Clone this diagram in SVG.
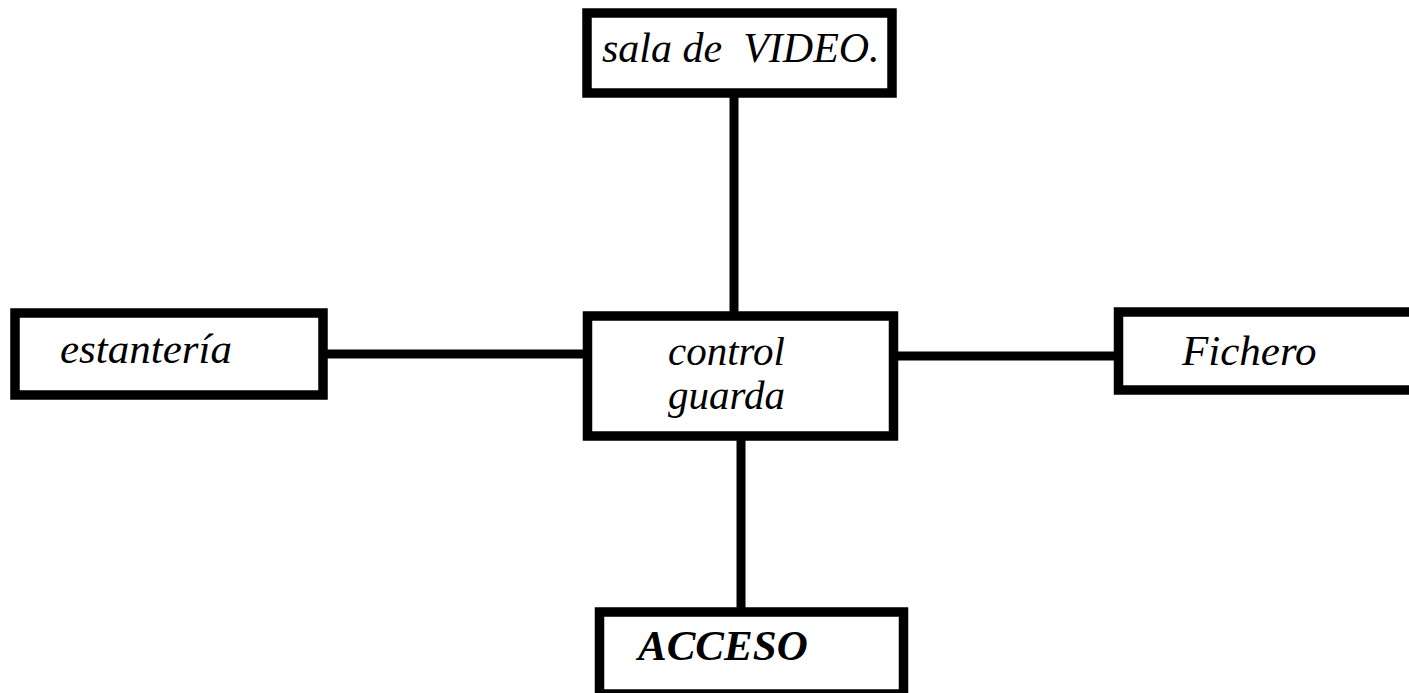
<svg xmlns="http://www.w3.org/2000/svg" width="1409" height="693" viewBox="0 0 1409 693">
<style>
.box{fill:#ffffff;stroke:#000000;stroke-width:9.5}
.ln{stroke:#000000;stroke-width:9;fill:none}
.t{font-family:"Liberation Serif","Times New Roman",serif;font-style:italic;font-size:43px;fill:#000000;white-space:pre}
.b{font-weight:bold}
.s{font-size:41px}
</style>
<rect width="1409" height="693" fill="#ffffff"/>
<g id="connectors">
<line class="ln" x1="734" y1="96" x2="734" y2="314"/>
<line class="ln" x1="326" y1="354" x2="585" y2="354"/>
<line class="ln" x1="896" y1="356" x2="1116" y2="356"/>
<line class="ln" x1="741" y1="438" x2="741" y2="610"/>
</g>
<g id="sala">
<rect class="box" x="587" y="13" width="305" height="80"/>
<text class="t" x="602" y="62" style="font-size:42px">sala de  VIDEO.</text>
</g>
<g id="estanteria">
<rect class="box" x="15" y="313" width="308" height="82"/>
<text class="t" x="60" y="363">estantería</text>
</g>
<g id="control">
<rect class="box" x="587.5" y="316" width="306" height="120"/>
<text class="t s" x="668" y="365">control</text>
<text class="t s" x="668" y="409">guarda</text>
</g>
<g id="fichero">
<rect class="box" x="1118.5" y="312" width="320" height="78"/>
<text class="t" x="1182" y="365">Fichero</text>
</g>
<g id="acceso">
<rect class="box" x="599.5" y="612" width="304" height="82"/>
<text class="t b" x="638" y="660">ACCESO</text>
</g>
</svg>
